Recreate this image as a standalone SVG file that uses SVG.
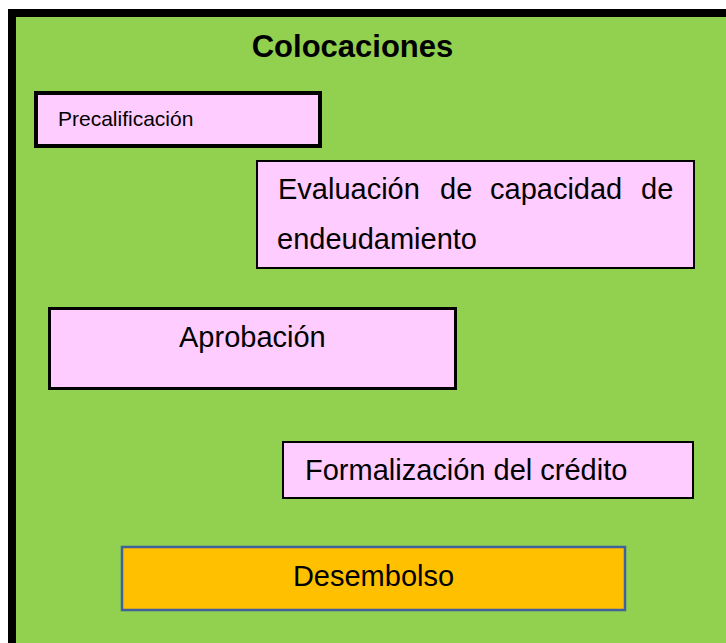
<svg xmlns="http://www.w3.org/2000/svg" width="726" height="643" viewBox="0 0 726 643">
<style>
text{font-family:"Liberation Sans",Arial,sans-serif;fill:#000}
.pink{fill:#FFCCFF;stroke:#000}
.lbl{font-size:29px}
</style>
<rect x="0" y="0" width="726" height="643" fill="#fff"/>
<g id="frame">
<rect x="12" y="13" width="730" height="650" fill="#92D050" stroke="#000" stroke-width="8"/>
<text x="352.5" y="57" text-anchor="middle" font-size="31" font-weight="bold">Colocaciones</text>
</g>
<g id="precalificacion">
<rect class="pink" x="36" y="93" width="284" height="53" stroke-width="4"/>
<text x="58" y="126" font-size="21">Precalificación</text>
</g>
<g id="evaluacion">
<rect class="pink" x="257" y="161" width="437" height="107" stroke-width="2"/>
<text class="lbl" y="199"><tspan x="278">Evaluación</tspan><tspan x="440">de</tspan><tspan x="490">capacidad</tspan><tspan x="641">de</tspan></text>
<text class="lbl" x="277" y="249">endeudamiento</text>
</g>
<g id="aprobacion">
<rect class="pink" x="49.5" y="308.5" width="406" height="80" stroke-width="3"/>
<text class="lbl" x="179" y="347">Aprobación</text>
</g>
<g id="formalizacion">
<rect class="pink" x="283" y="442" width="410" height="56" stroke-width="2"/>
<text class="lbl" x="305" y="480">Formalización del crédito</text>
</g>
<g id="desembolso">
<rect x="122" y="547" width="503" height="63" fill="#FFC000" stroke="#41619C" stroke-width="2.5"/>
<text class="lbl" x="373.5" y="586" text-anchor="middle">Desembolso</text>
</g>
<g id="connectors"></g>
</svg>
